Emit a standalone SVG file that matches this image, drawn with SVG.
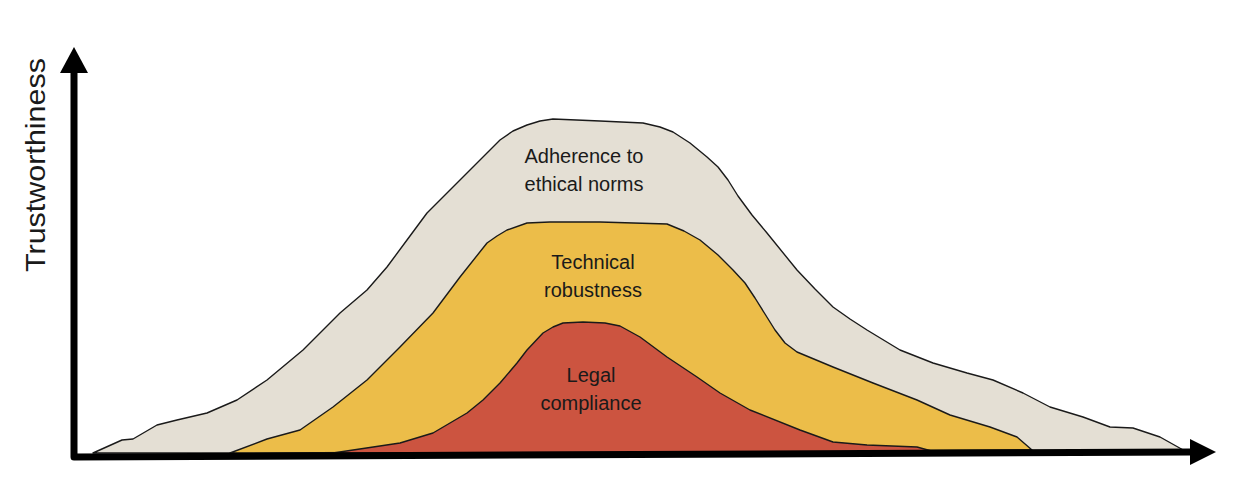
<svg xmlns="http://www.w3.org/2000/svg" width="1236" height="492" viewBox="0 0 1236 492">
<style>
.band{stroke:#1a1a1a;stroke-width:1.4;stroke-linejoin:round}
.lbl{font-family:"Liberation Sans",Arial,sans-serif;font-size:20px;fill:#1a1a1a;text-anchor:middle}
.axis{fill:none;stroke:#000;stroke-width:7;stroke-linejoin:round}
</style>
<rect width="1236" height="492" fill="#fff"/>
<g id="ethics">
<path class="band" fill="#E4DFD4" d="M93,453 L122,440 L133,439 L157,425 L177,420 L207,413 L237,400 L267,380 L303,350 L340,313 L367,290 L387,267 L407,240 L427,213 L450,190 L473,167 L488,152 L500,140 L513,131 L527,125 L540,121 L553,119 L600,121 L643,123 L660,127 L673,132 L690,143 L707,157 L718,167 L728,180 L738,196 L752,215 L767,233 L797,270 L815,289 L833,307 L850,319 L867,330 L900,350 L933,363 L967,373 L993,380 L1023,393 L1050,407 L1083,417 L1110,427 L1133,428 L1160,437 L1185,451 Z"/>
<text class="lbl" x="584" y="163">Adherence to</text>
<text class="lbl" x="584" y="191">ethical norms</text>
</g>
<g id="technical">
<path class="band" fill="#ECBD49" d="M230,453 L267,439 L300,430 L333,407 L367,380 L400,347 L433,313 L460,277 L487,243 L497,236 L507,230 L527,223 L550,222 L600,222 L667,224 L684,231 L700,240 L718,255 L733,270 L745,283 L755,298 L765,314 L775,330 L785,343 L797,352 L833,367 L873,383 L917,400 L950,415 L990,427 L1017,437 L1032,450 Z"/>
<text class="lbl" x="593" y="269">Technical</text>
<text class="lbl" x="593" y="297">robustness</text>
</g>
<g id="legal">
<path class="band" fill="#CC5440" d="M333,453 L400,443 L433,433 L467,413 L483,400 L500,383 L517,363 L527,350 L543,333 L553,327 L563,323 L583,322 L605,323 L620,326 L640,337 L667,357 L697,377 L720,393 L750,410 L800,430 L833,442 L867,445 L917,447 L935,452 Z"/>
<text class="lbl" x="591" y="382">Legal</text>
<text class="lbl" x="591" y="410">compliance</text>
</g>
<g id="axes">
<path class="axis" d="M74,70 L74,457 L1192,452"/>
<polygon points="60,73 74,47 88,73" fill="#000"/>
<polygon points="1190,439 1216,452 1190,465" fill="#000"/>
<text transform="translate(45,165) rotate(-90)" font-family="Liberation Sans,Arial,sans-serif" font-size="28" fill="#1a1a1a" text-anchor="middle" textLength="214" lengthAdjust="spacingAndGlyphs">Trustworthiness</text>
</g>
</svg>
